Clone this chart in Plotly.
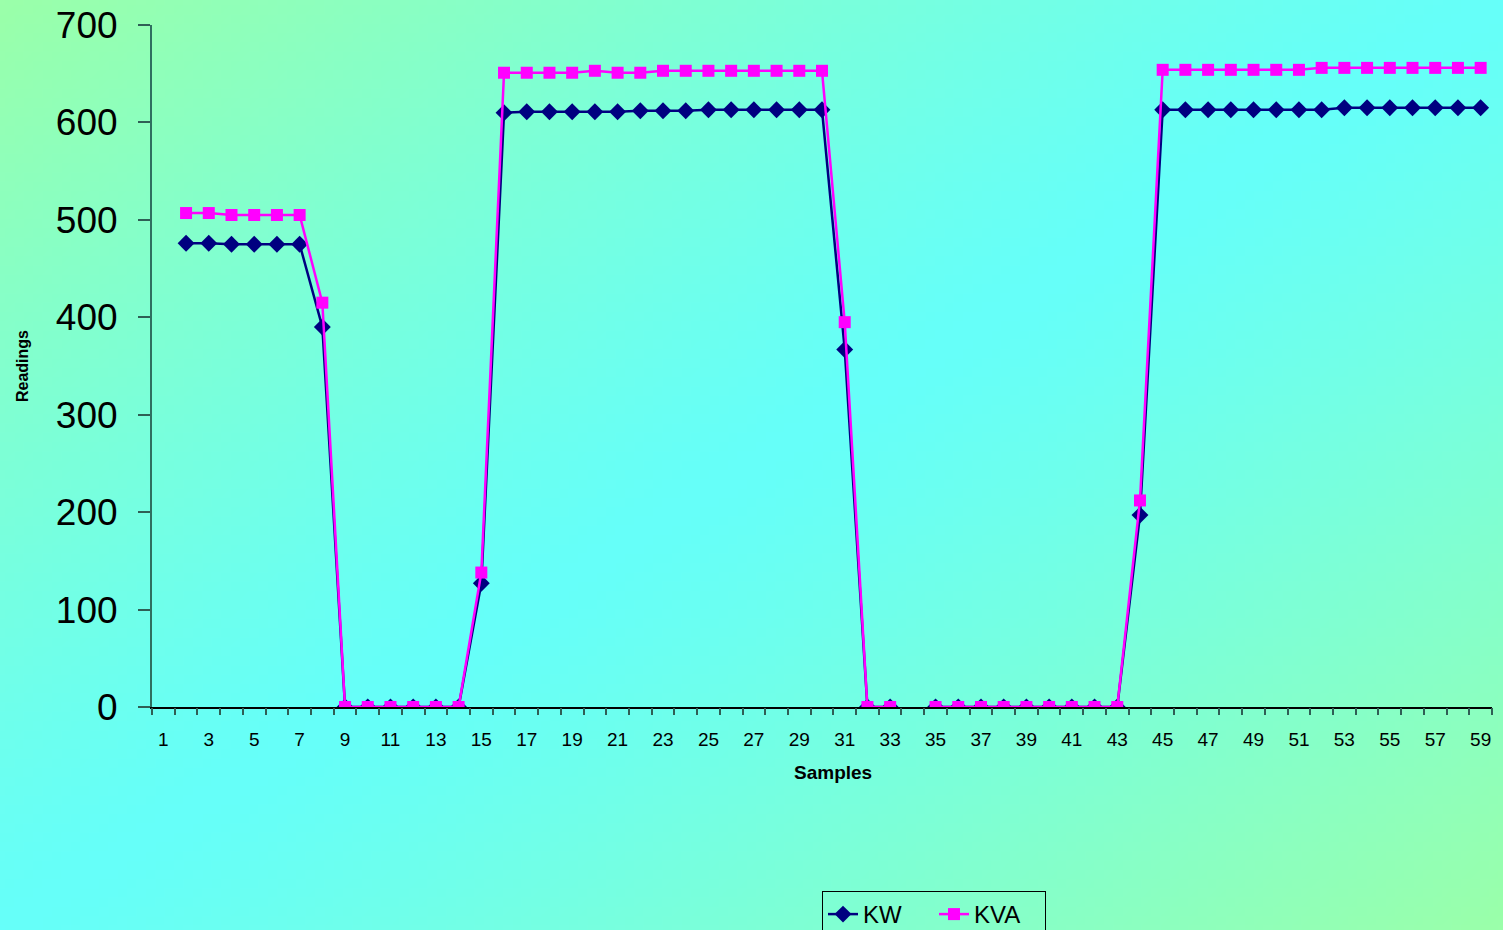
import base64, struct, zlib
import plotly.graph_objects as go

samples = list(range(1, 60))
kw = [None, 476, 476, 475, 475, 475, 475, 390, 0, 0, 0, 0, 0, 0, 127,
      610, 611, 611, 611, 611, 611, 612, 612, 612, 613, 613, 613, 613, 613, 613,
      367, 0, 0, None, 0, 0, 0, 0, 0, 0, 0, 0, 0, 197,
      613, 613, 613, 613, 613, 613, 613, 613, 615, 615, 615, 615, 615, 615, 615]
kva = [None, 507, 507, 505, 505, 505, 505, 415, 0, 0, 0, 0, 0, 0, 138,
       651, 651, 651, 651, 653, 651, 651, 653, 653, 653, 653, 653, 653, 653, 653,
       395, 0, 0, None, 0, 0, 0, 0, 0, 0, 0, 0, 0, 212,
       654, 654, 654, 654, 654, 654, 654, 656, 656, 656, 656, 656, 656, 656, 656]
odd_ticks = list(range(1, 60, 2))
boundaries = [i + 0.5 for i in range(0, 60)]

W, H = 1503, 930
L, R, T, B = 152, 11, 25, 223
PW, PH = W - L - R, H - T - B


def gradient_png(w, h, c_center, c_edge):
    rows = b""
    for y in range(h):
        row = b"\x00"
        for x in range(w):
            t = (x / (w - 1) + y / (h - 1)) / 2
            d = abs(2 * t - 1) ** 1.2
            row += bytes(int(c_center[i] + (c_edge[i] - c_center[i]) * d) for i in range(3))
        rows += row

    def chunk(tag, data):
        c = struct.pack(">I", len(data)) + tag + data
        return c + struct.pack(">I", zlib.crc32(tag + data) & 0xffffffff)

    png = b"\x89PNG\r\n\x1a\n"
    png += chunk(b"IHDR", struct.pack(">IIBBBBB", w, h, 8, 2, 0, 0, 0))
    png += chunk(b"IDAT", zlib.compress(rows, 9))
    png += chunk(b"IEND", b"")
    return "data:image/png;base64," + base64.b64encode(png).decode()


bg = gradient_png(160, 100, (102, 255, 250), (155, 255, 170))

fig = go.Figure()
fig.add_trace(go.Scatter(
    x=samples, y=kw, name="KW", mode="lines+markers",
    line=dict(color="#000080", width=2.5),
    marker=dict(symbol="diamond", size=13, color="#000080"),
))
fig.add_trace(go.Scatter(
    x=samples, y=kva, name="KVA", mode="lines+markers",
    line=dict(color="#FF00FF", width=2.5),
    marker=dict(symbol="square", size=12, color="#FF00FF"),
))
fig.add_trace(go.Scatter(x=[0.5, 59.5], y=[None, None], xaxis="x2",
                         showlegend=False, hoverinfo="skip"))

fig.update_layout(
    width=W, height=H,
    margin=dict(l=L, r=R, t=T, b=B, autoexpand=False),
    paper_bgcolor="rgba(0,0,0,0)", plot_bgcolor="rgba(0,0,0,0)",
    font=dict(family="Liberation Sans, Arial, sans-serif", color="#000000"),
    images=[dict(source=bg, xref="paper", yref="paper", x=-L / PW, y=1 + T / PH,
                 sizex=W / PW, sizey=H / PH, sizing="stretch",
                 xanchor="left", yanchor="top", layer="below")],
    xaxis=dict(
        range=[0.5, 59.5], tickmode="array", tickvals=odd_ticks,
        ticktext=[str(v) for v in odd_ticks], ticks="", showgrid=False,
        zeroline=False, showline=True, linecolor="#000000", linewidth=1.5,
        tickfont=dict(size=19), ticklabelstandoff=14, automargin=False,
    ),
    xaxis2=dict(
        range=[0.5, 59.5], overlaying="x", side="bottom", tickmode="array",
        tickvals=boundaries, ticks="outside", ticklen=7, tickcolor="#2f5f55",
        tickwidth=1.5, showticklabels=False, showgrid=False, zeroline=False,
        showline=False, automargin=False,
    ),
    yaxis=dict(
        range=[0, 700], tickmode="array", tickvals=list(range(0, 701, 100)),
        ticks="outside", ticklen=12, tickcolor="#2f5f55", tickwidth=1.5,
        showgrid=False, zeroline=False, showline=True, linecolor="#2f6f60",
        linewidth=2, tickfont=dict(size=37), ticklabelstandoff=13, automargin=False,
    ),
    annotations=[
        dict(text="<b>Readings</b>", xref="paper", yref="paper",
             x=(22 - L) / PW, y=(T + PH - 366) / PH, textangle=-90,
             showarrow=False, font=dict(size=16), xanchor="center", yanchor="middle"),
        dict(text="<b>Samples</b>", xref="paper", yref="paper",
             x=(833 - L) / PW, y=(T + PH - 773) / PH, showarrow=False,
             font=dict(size=19), xanchor="center", yanchor="middle"),
    ],
    legend=dict(
        orientation="h", x=(822 - L) / PW, y=(T + PH - 891) / PH,
        xanchor="left", yanchor="top",
        bgcolor="rgba(0,0,0,0)", bordercolor="#000000", borderwidth=1,
        font=dict(size=24), itemwidth=30, entrywidth=66,
    ),
    showlegend=True,
)

fig.write_html("out.html", config={"displayModeBar": False},
               post_script="document.body.style.margin='0';document.body.style.overflow='hidden';")
